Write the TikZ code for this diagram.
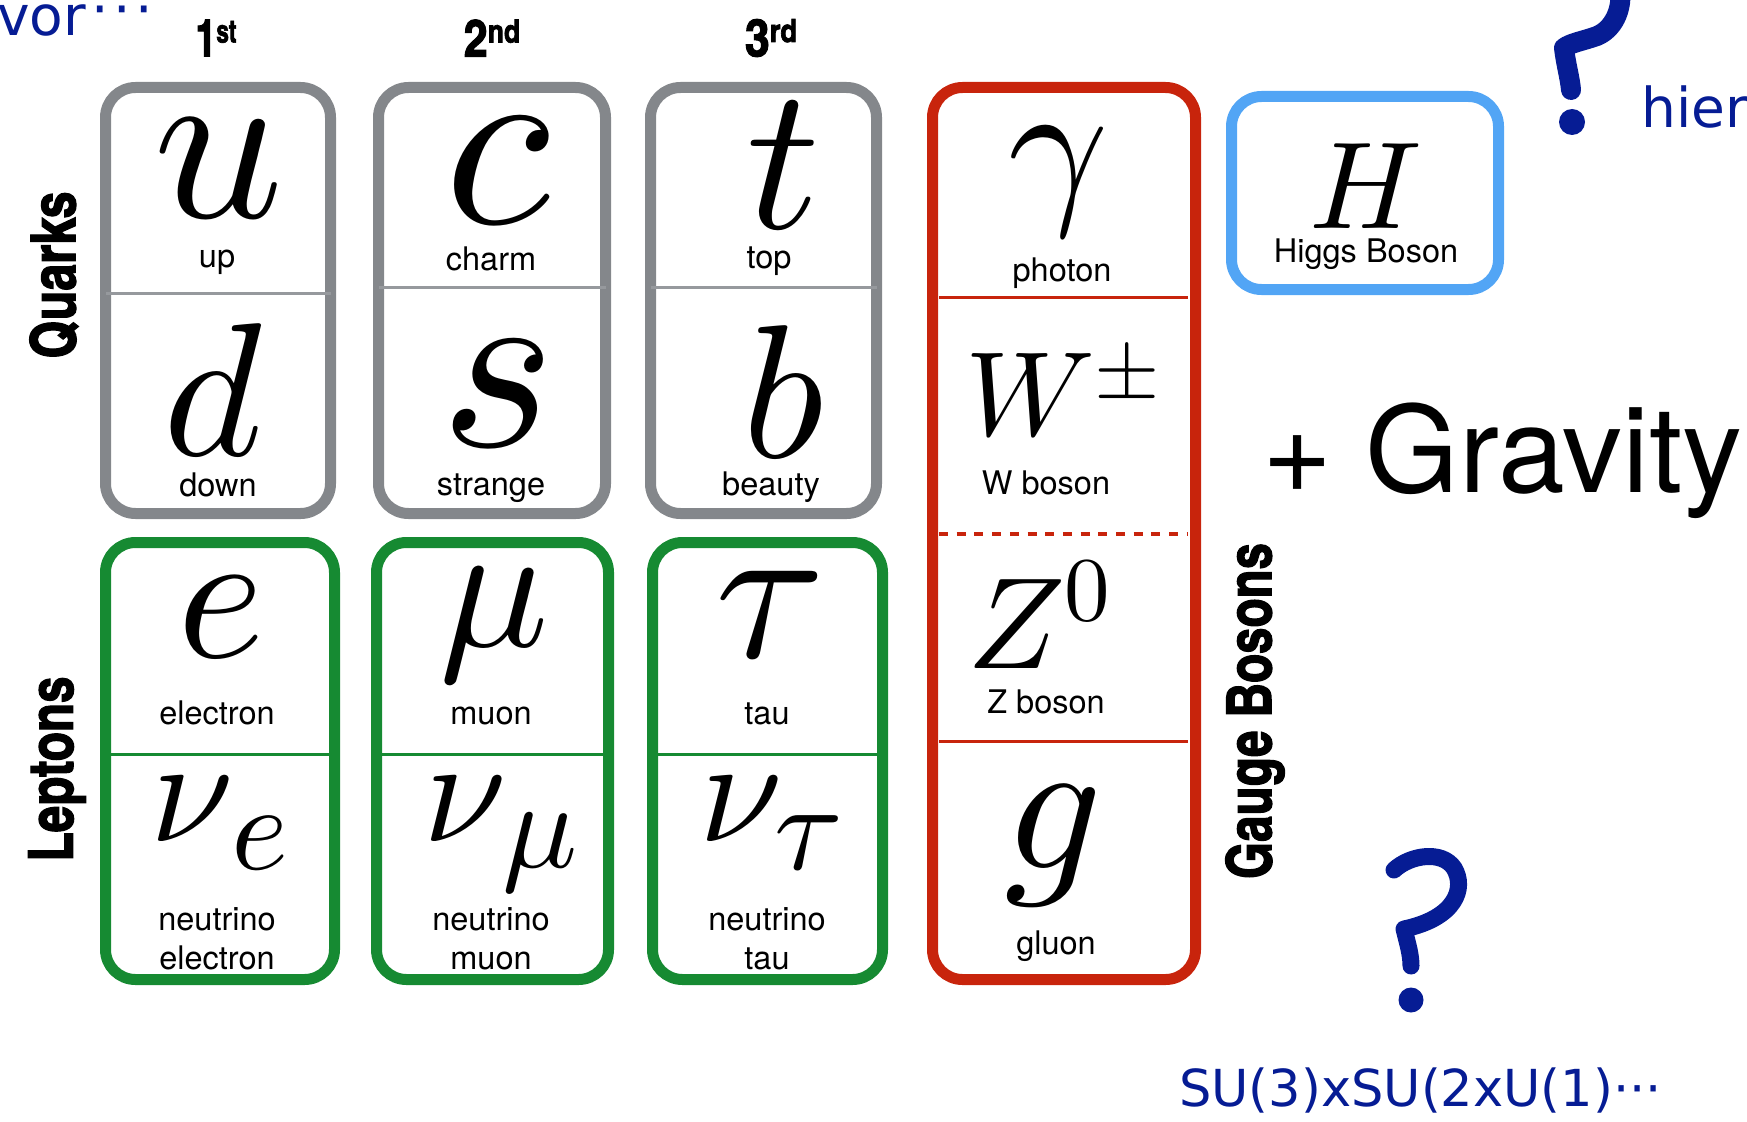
\documentclass[tikz,border=0pt]{standalone}
\usepackage{fontspec}
\usepackage{unicode-math}
\usepackage{graphicx}
\setmainfont{TeX Gyre Heros}
\newfontfamily\hdfont{texgyreheroscn-bold.otf}[FakeBold=2]
\newfontfamily\handfont{DejaVu Sans}
\definecolor{qgrey}{RGB}{132,135,139}
\definecolor{qgreyl}{RGB}{150,153,157}
\definecolor{lgreen}{RGB}{22,138,50}
\definecolor{bred}{RGB}{200,36,12}
\definecolor{hblue}{RGB}{82,165,245}
\definecolor{ink}{RGB}{6,28,148}
\tikzset{
  famebox/.style={draw=#1, line width=11pt, rounded corners=30pt, inner sep=0pt, outer sep=0pt},
  sym/.style={inner sep=0pt, anchor=base, font=\fontsize{#1}{#1}\selectfont},
  lab/.style={inner sep=0pt, anchor=base, font=\fontsize{32.5}{32.5}\selectfont},
  side/.style={inner sep=0pt, rotate=90},
  hand/.style={inner sep=0pt, text=ink, font=\handfont\fontsize{#1}{#1}\selectfont},
  qmark/.style={draw=ink, line width=#1, line cap=round, line join=round},
  divline/.style={draw=#1, line width=3pt},
}
\newcommand{\hdtxt}[3]{\resizebox{#1}{\height}{\hdfont\fontsize{#2}{#2}\selectfont #3}}
\newcommand{\genlab}[4]{\resizebox{#1}{\height}{\hdfont\fontsize{52}{52}\selectfont #2\raisebox{#4}{\fontsize{32}{32}\selectfont #3}}}
\newcommand{\myhanddots}{\raisebox{7pt}{\kern5pt·\kern5pt·\kern5pt·}}
\begin{document}
\begin{tikzpicture}[x=1pt,y=-1pt]
\useasboundingbox (0,0) rectangle (1747,1121);
\clip (0,0) rectangle (1747,1121);

% generation headers
\node[inner sep=0pt] (g1) at (216,38) {\genlab{41pt}{1}{st}{14pt}};
\node[inner sep=0pt] (g2) at (492,38) {\genlab{56pt}{2}{nd}{14pt}};
\node[inner sep=0pt] (g3) at (771,38) {\genlab{52pt}{3}{rd}{14pt}};

% side labels
\node[side] (quarks) at (54,275) {\hdtxt{167pt}{62}{Quarks}};
\node[side] (leptons) at (57,769) {\hdtxt{185pt}{62}{Leptons}};
\node[side] (gauge) at (1255,711) {\hdtxt{336pt}{62}{Gauge Bosons}};

% boxes
\node[famebox=qgrey, minimum width=225pt, minimum height=426pt] (q1) at (218,300.5) {};
\node[famebox=qgrey, minimum width=227pt, minimum height=426pt] (q2) at (492,300.5) {};
\node[famebox=qgrey, minimum width=226pt, minimum height=426pt] (q3) at (763.5,300.5) {};
\node[famebox=lgreen, minimum width=229pt, minimum height=437pt] (l1) at (220,761) {};
\node[famebox=lgreen, minimum width=232pt, minimum height=437pt] (l2) at (492.5,761) {};
\node[famebox=lgreen, minimum width=230pt, minimum height=437pt] (l3) at (767.5,761) {};
\node[famebox=bred, minimum width=263pt, minimum height=892pt] (gb) at (1064,533.5) {};
\node[famebox=hblue, minimum width=267pt, minimum height=193pt] (hb) at (1365,193) {};

% dividers
\path[divline=qgreyl] (q1.west |- 0,293) -- (q1.east |- 0,293);
\path[divline=qgreyl] (q2.west |- 0,287) -- (q2.east |- 0,287);
\path[divline=qgreyl] (q3.west |- 0,287) -- (q3.east |- 0,287);
\path[divline=lgreen] (l1.west |- 0,754) -- (l1.east |- 0,754);
\path[divline=lgreen] (l2.west |- 0,754) -- (l2.east |- 0,754);
\path[divline=lgreen] (l3.west |- 0,754) -- (l3.east |- 0,754);
\path[divline=bred] (939,297) -- (1188,297);
\draw[bred, line width=4.5pt, dash pattern=on 9pt off 8.7pt] (939,534) -- (1188,534);
\path[divline=bred] (939,741) -- (1188,741);

% quark symbols
\node[sym=228] (u) at (219,217) {$u$};
\node[sym=190] (d) at (215,455) {$d$};
\node[sym=245] (c) at (501,223) {$c$};
\node[sym=245] (s) at (498,446) {$s$};
\node[sym=205] (t) at (783,228) {$t$};
\node[sym=190] (b) at (785,457) {$b$};
% lepton symbols
\node[sym=187] (e) at (221,657) {$e$};
\node[sym=182] (mu) at (494,646) {$\mu$};
\node[sym=200] (tau) at (769,657) {$\tau$};
\node[sym=150] (nue) at (192,841) {$\nu$};
\node[sym=122] (nuesub) at (260,869) {$e$};
\node[sym=150] (numu) at (465,841) {$\nu$};
\node[sym=125] (numusub) at (540,867) {$\mu$};
\node[sym=150] (nutau) at (741,841) {$\nu$};
\node[sym=125] (nutausub) at (808,869) {$\tau$};
% bosons
\node[sym=175] (gamma) at (1058,202) {$\gamma$};
\node[sym=120] (w) at (1063,435) {$W^{\pm}$};
\node[sym=130] (z) at (1039,668) {$Z^{0}$};
\node[sym=192] (gl) at (1053,868) {$g$};
\node[sym=124] (h) at (1366,228) {$H$};

% labels
\node[lab] (lup) at (217,267) {up};
\node[lab] (lcharm) at (491,270) {charm};
\node[lab] (ltop) at (769,268) {top};
\node[lab] (ldown) at (218,496) {down};
\node[lab] (lstrange) at (491,495) {strange};
\node[lab] (lbeauty) at (771,495) {beauty};
\node[lab] (lelectron) at (217,724) {electron};
\node[lab] (lmuon) at (491,724) {muon};
\node[lab] (ltau) at (767,724) {tau};
\node[lab] (lnue1) at (217,930) {neutrino};
\node[lab] (lnue2) at (217,969) {electron};
\node[lab] (lnumu1) at (491,930) {neutrino};
\node[lab] (lnumu2) at (491,969) {muon};
\node[lab] (lnutau1) at (767,930) {neutrino};
\node[lab] (lnutau2) at (767,969) {tau};
\node[lab] (lphoton) at (1062,281) {photon};
\node[lab] (lw) at (1046,494) {W boson};
\node[lab] (lz) at (1046,713) {Z boson};
\node[lab] (lgluon) at (1056,954) {gluon};
\node[lab] (lhiggs) at (1366,262) {Higgs Boson};

% gravity
\node[inner sep=0pt, anchor=base west, font=\fontsize{120}{120}\selectfont] (grav) at (1262,492) {+ Gravity};

% handwriting
\node[hand=55, anchor=base west] (vor) at (-3,36) {vor\myhanddots};
\node[hand=55, anchor=base west] (hier) at (1641,128) {hier};
\node[hand=51, anchor=base west] (su) at (1179,1106) {SU(3)xSU(2xU(1)···};

% question marks
\draw[qmark=20pt] (1585,-45) .. controls (1630,-40) and (1630,22) .. (1597,36) .. controls (1583,41) and (1570,43) .. (1564,48) .. controls (1566,65) and (1570,78) .. (1571,90);
\fill[ink] (1572,122) circle (13pt);
\draw[qmark=17pt] (1394,870) .. controls (1410,855) and (1442,850) .. (1454,868) .. controls (1466,888) and (1456,918) .. (1404,929) .. controls (1408,945) and (1411,955) .. (1411,966);
\fill[ink] (1411,1000) circle (12.5pt);
\end{tikzpicture}
\end{document}
